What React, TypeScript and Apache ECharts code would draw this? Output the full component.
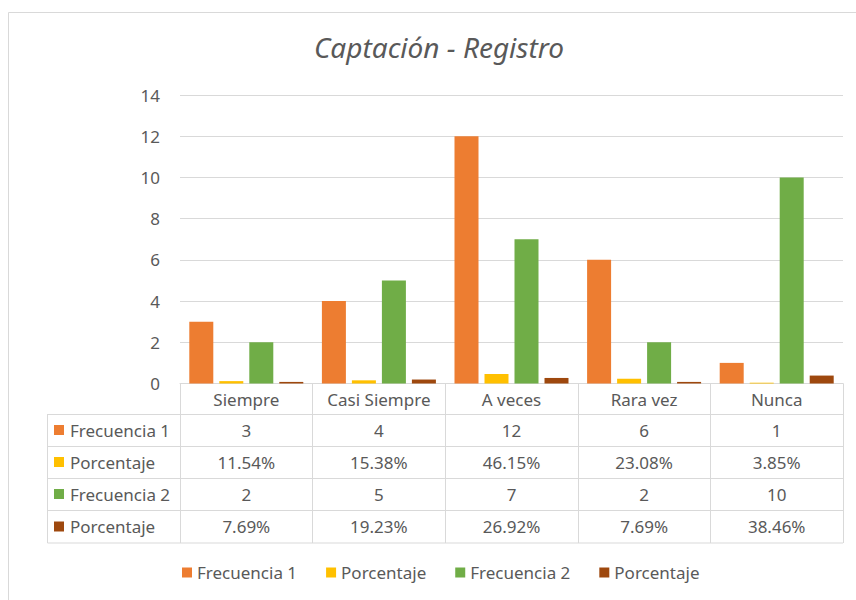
import React, { useEffect, useRef } from "react";
import * as echarts from "echarts";

const categories = ["Siempre", "Casi Siempre", "A veces", "Rara vez", "Nunca"];
const seriesNames = ["Frecuencia 1", "Porcentaje", "Frecuencia 2", "Porcentaje"];
const frecuencia1 = [3, 4, 12, 6, 1];
const porcentaje1 = [0.1154, 0.1538, 0.4615, 0.2308, 0.0385];
const frecuencia2 = [2, 5, 7, 2, 10];
const porcentaje2 = [0.0769, 0.1923, 0.2692, 0.0769, 0.3846];
const yTicks = { min: 0, max: 14, interval: 2 };

const colors = ["#ED7D31", "#FFC000", "#70AD47", "#9E480E"];
const TEXT = "#595959";
const LINE = "#D9D9D9";
const FONT = "'Noto Sans', sans-serif";
const FS = 17;

const fmtPct = (v: number) => (v * 100).toFixed(2) + "%";

export default function App() {
  const ref = useRef<HTMLDivElement>(null);
  useEffect(() => {
    if (!ref.current) return;
    const chart = echarts.init(ref.current, null, { renderer: "svg" });

    const gridLeft = 180;
    const gridRight = 843;
    const axisY = 383.5;
    const rowCenters = [430, 462, 494, 526.5];
    const rowBounds = [414, 446, 478, 510, 542.5];
    const tableLeft = 47.5;

    const seriesData = [frecuencia1, porcentaje1, frecuencia2, porcentaje2];
    const rowTexts = [
      frecuencia1.map(String),
      porcentaje1.map(fmtPct),
      frecuencia2.map(String),
      porcentaje2.map(fmtPct),
    ];
    // unique keys for legend (two series share a display name)
    const keys = seriesNames.map((n, i) => (i === 3 ? n + " " : n));

    const extraAxes = rowTexts.map((row, i) => ({
      type: "category",
      gridIndex: 0,
      position: "bottom",
      offset: rowCenters[i] - (axisY + 16.5),
      data: row,
      axisLine: { show: false },
      axisTick: { show: false },
      splitLine: { show: false },
      axisLabel: { interval: 0, color: TEXT, fontSize: FS, fontFamily: FONT, margin: 8 },
    }));

    const graphics: any[] = [
      {
        type: "rect",
        shape: { x: 8.5, y: 12.5, width: 870, height: 620 },
        style: { fill: "none", stroke: LINE, lineWidth: 1 },
        silent: true,
      },
      {
        type: "text",
        x: 439,
        y: 47,
        style: {
          text: "Captación - Registro",
          fontSize: 28,
          fontStyle: "italic",
          fontFamily: FONT,
          fill: TEXT,
          align: "center",
          verticalAlign: "middle",
        },
      },
    ];
    rowBounds.forEach((y) => {
      graphics.push({
        type: "line",
        shape: { x1: tableLeft, y1: y + 0.5, x2: gridRight, y2: y + 0.5 },
        style: { stroke: LINE, lineWidth: 1 },
        silent: true,
      });
    });
    graphics.push({
      type: "line",
      shape: { x1: tableLeft, y1: rowBounds[0], x2: tableLeft, y2: rowBounds[4] + 0.5 },
      style: { stroke: LINE, lineWidth: 1 },
      silent: true,
    });
    seriesNames.forEach((n, i) => {
      graphics.push({
        type: "rect",
        shape: { x: 54, y: rowCenters[i] - 5, width: 10, height: 10 },
        style: { fill: colors[i] },
        silent: true,
      });
      graphics.push({
        type: "text",
        x: 70,
        y: rowCenters[i],
        style: {
          text: n,
          fontSize: FS,
          fontFamily: FONT,
          fill: TEXT,
          align: "left",
          verticalAlign: "middle",
        },
      });
    });

    chart.setOption({
      animation: false,
      color: colors,
      textStyle: { fontFamily: FONT },
      grid: { left: gridLeft, right: 856 - gridRight, top: 95, bottom: 600 - axisY, containLabel: false },
      legend: {
        data: keys,
        left: 177,
        top: 559,
        icon: "rect",
        itemWidth: 10,
        itemHeight: 10,
        itemGap: 29,
        formatter: (name: string) => name.trim(),
        textStyle: { color: TEXT, fontSize: FS, fontFamily: FONT },
      },
      xAxis: [
        {
          type: "category",
          data: categories,
          axisLine: { lineStyle: { color: LINE } },
          axisTick: { show: true, interval: 0, length: rowBounds[4] - axisY + 0.5, lineStyle: { color: LINE } },
          axisLabel: { interval: 0, color: TEXT, fontSize: FS, fontFamily: FONT, margin: 7 },
        },
        ...extraAxes,
      ],
      yAxis: {
        type: "value",
        min: yTicks.min,
        max: yTicks.max,
        interval: yTicks.interval,
        axisLine: { show: false },
        axisTick: { show: false },
        axisLabel: { color: TEXT, fontSize: FS, fontFamily: FONT, margin: 20 },
        splitLine: { lineStyle: { color: LINE } },
      },
      series: seriesData.map((d, i) => ({
        name: keys[i],
        type: "bar",
        data: d,
        barWidth: 24,
        barGap: "25%",
        xAxisIndex: 0,
        itemStyle: { color: colors[i] },
      })),
      graphic: graphics,
    });
    return () => chart.dispose();
  }, []);
  return (
    <div
      ref={ref}
      style={{ position: "absolute", left: 0, top: 0, width: 856, height: 600, background: "#fff" }}
    />
  );
}
